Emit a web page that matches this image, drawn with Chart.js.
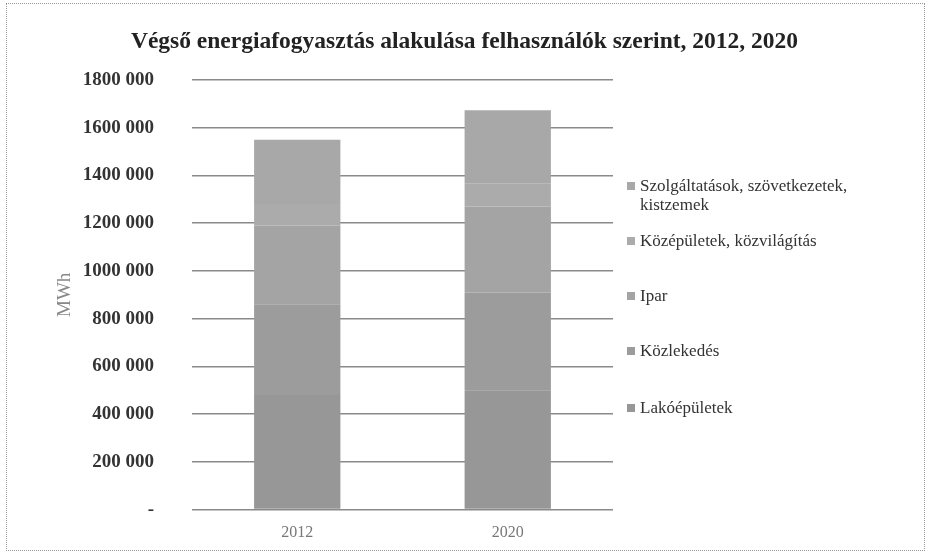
<!DOCTYPE html>
<html>
<head>
<meta charset="utf-8">
<script src="https://cdn.jsdelivr.net/npm/chart.js@4"></script>
<style>
	body { margin: 0; background: #fff; }
	#wrap { position: relative; width: 929px; height: 559px; }
	#frame { position: absolute; left: 6px; top: 3px; width: 917px; height: 546px; border: 1px dotted #999; }
	#title { position: absolute; left: 0; top: 27px; width: 929px; text-align: center;
		font: bold 23.5px "Liberation Serif", serif; color: #222; }
	#legend { position: absolute; left: 627px; top: 176px; width: 285px;
		font: 17px "Liberation Serif", serif; color: #333; }
	.item { position: relative; padding-left: 13px; line-height: 19px; }
	.item span.box { position: absolute; left: 0; top: 6px; width: 8px; height: 8px; }
	canvas { position: absolute; left: 0; top: 0; }
</style>
</head>
<body>
<div id="wrap">
	<div id="frame"></div>
	<canvas id="miGrafico" width="929" height="559"></canvas>
	<div id="title">Végső energiafogyasztás alakulása felhasználók szerint, 2012, 2020</div>
	<div id="legend"></div>
</div>
<script>
const years = ["2012", "2020"];
const lakoepuletek = [480000, 500000];
const kozlekedes = [380000, 410000];
const ipar = [330000, 360000];
const kozepuletek = [90000, 95000];
const szolgaltatasok = [270000, 308000];
const tickValues = [0, 200000, 400000, 600000, 800000, 1000000, 1200000, 1400000, 1600000, 1800000];

function fmt(v) {
	if (v === 0) return "-";
	return String(v).replace(/\B(?=(\d{3})+(?!\d))/g, " ").replace(/^(\d) (\d{3}) /, "$1$2 ");
}

function initGrafico() {
	const ctx = document.getElementById("miGrafico");
	const chart = new Chart(ctx, {
		type: "bar",
		data: {
			labels: years,
			datasets: [
				{ label: "Lakóépületek", data: lakoepuletek, backgroundColor: "#979797" },
				{ label: "Közlekedés", data: kozlekedes, backgroundColor: "#9c9c9c" },
				{ label: "Ipar", data: ipar, backgroundColor: "#a4a4a4" },
				{ label: "Középületek, közvilágítás", data: kozepuletek, backgroundColor: "#ababab" },
				{ label: "Szolgáltatások, szövetkezetek, kistzemek", data: szolgaltatasok, backgroundColor: "#a8a8a8" },
			],
		},
		options: {
			responsive: false,
			animation: false,
			layout: { padding: { left: 54, right: 316, top: 80, bottom: 19 } },
			datasets: { bar: { categoryPercentage: 1, barPercentage: 0.41 } },
			plugins: { legend: { display: false }, tooltip: { enabled: false } },
			scales: {
				x: {
					stacked: true,
					grid: { display: false },
					border: { display: false },
					ticks: { color: "#777", font: { family: "Liberation Serif", size: 16 }, padding: 6 },
					afterFit: (s) => { s.height = 30; },
				},
				y: {
					stacked: true,
					min: 0,
					max: 1800000,
					afterBuildTicks: (s) => { s.ticks = tickValues.map((v) => ({ value: v })); },
					afterFit: (s) => { s.width = 138; },
					grid: { color: "#8a8a8a", lineWidth: 1.5, drawTicks: false },
					border: { display: false },
					ticks: {
						padding: 38,
						color: "#333",
						font: { family: "Liberation Serif", size: 19, weight: "bold" },
						callback: (v) => fmt(v),
					},
					title: {
						display: true,
						text: "MWh",
						color: "#888",
						font: { family: "Liberation Serif", size: 19 },
						padding: 0,
					},
				},
			},
		},
	});

	// legend, top item = last series
	const legend = document.getElementById("legend");
	const gaps = [0, 17, 36, 36, 38];
	chart.data.datasets.slice().reverse().forEach((ds, i) => {
		const div = document.createElement("div");
		div.className = "item";
		div.style.marginTop = gaps[i] + "px";
		const box = document.createElement("span");
		box.className = "box";
		box.style.background = ds.backgroundColor;
		div.appendChild(box);
		div.appendChild(document.createTextNode(ds.label));
		legend.appendChild(div);
	});
}

initGrafico();
</script>
</body>
</html>
